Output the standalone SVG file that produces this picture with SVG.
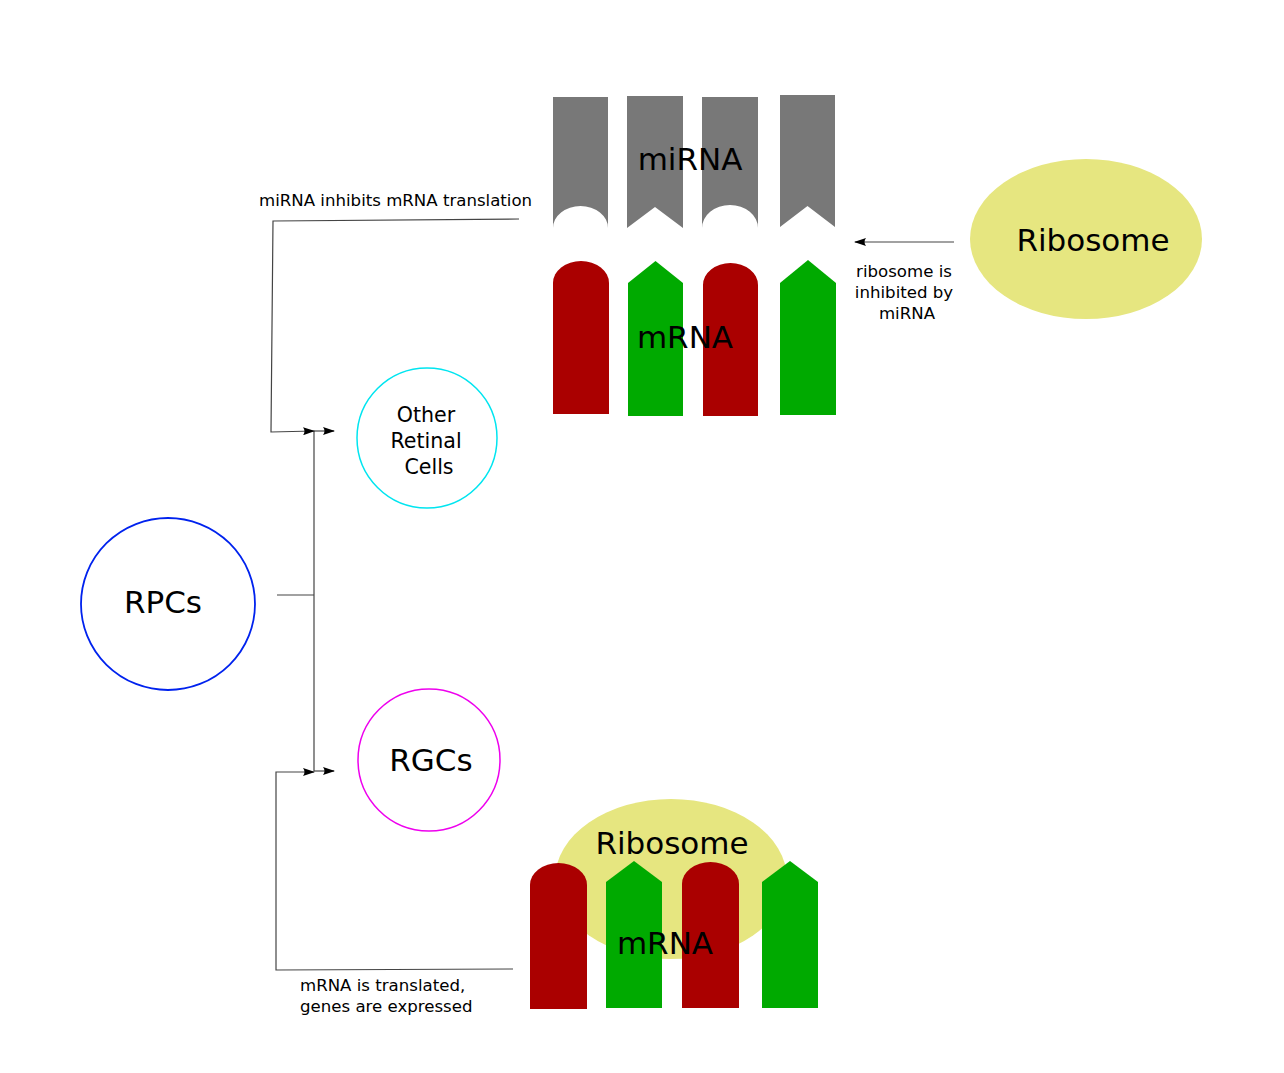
<svg xmlns="http://www.w3.org/2000/svg" width="1284" height="1073" viewBox="0 0 1284 1073">
<style>
text{font-family:"DejaVu Sans","Verdana",sans-serif;fill:#000}
.big{font-size:31px}
.mid{font-size:20.6px}
.sm{font-size:16.6px}
.gray{fill:#787878}
.red{fill:#aa0000}
.green{fill:#00aa00}
.rib{fill:#e6e680}
.ln{fill:none;stroke:#444;stroke-width:1.2}
</style>
<defs>
<marker id="ah" markerWidth="12" markerHeight="8" viewBox="0 0 12 8" refX="11" refY="4" orient="auto" markerUnits="userSpaceOnUse">
<path d="M0,0 L12,4 L0,8 Q3,4 0,0 Z" fill="#000"/>
</marker>
</defs>
<rect width="1284" height="1073" fill="#fff"/>

<g id="mirna">
<path class="gray" d="M553,97 H608 V228 A27.5,22 0 0 0 553,228 Z"/>
<path class="gray" d="M627,96 H683 V228 L655,207 L627,228 Z"/>
<path class="gray" d="M702,97 H758 V228 A28,23 0 0 0 702,228 Z"/>
<path class="gray" d="M780,95 H835 V227 L807.5,206 L780,227 Z"/>
<text class="big" x="690" y="170" text-anchor="middle">miRNA</text>
</g>

<g id="mrna-top">
<path class="red" d="M553,414 V283 A28,22 0 0 1 609,283 V414 Z"/>
<path class="green" d="M628,416 V283 L655.5,261 L683,283 V416 Z"/>
<path class="red" d="M703,416 V285 A27.5,22 0 0 1 758,285 V416 Z"/>
<path class="green" d="M780,415 V283 L808,260 L836,283 V415 Z"/>
<text class="big" x="685" y="348" text-anchor="middle">mRNA</text>
</g>

<g id="ribosome-top">
<ellipse class="rib" cx="1086" cy="239" rx="116" ry="80"/>
<text class="big" x="1093" y="251" text-anchor="middle">Ribosome</text>
</g>

<g id="other-retinal">
<circle cx="427" cy="438" r="70" fill="none" stroke="#00e5f0" stroke-width="1.5"/>
<text class="mid" x="426" y="422" text-anchor="middle">Other</text>
<text class="mid" x="426" y="448" text-anchor="middle">Retinal</text>
<text class="mid" x="429" y="474" text-anchor="middle">Cells</text>
</g>

<g id="rpcs">
<ellipse cx="168" cy="604" rx="87" ry="86" fill="none" stroke="#0022ee" stroke-width="1.8"/>
<text class="big" x="163" y="613" text-anchor="middle">RPCs</text>
</g>

<g id="rgcs">
<circle cx="429" cy="760" r="71" fill="none" stroke="#ee00ee" stroke-width="1.5"/>
<text class="big" x="431" y="771" text-anchor="middle">RGCs</text>
</g>

<g id="bottom-translation">
<ellipse class="rib" cx="671" cy="879" rx="116" ry="80"/>
<text class="big" x="672" y="854" text-anchor="middle">Ribosome</text>
<path class="red" d="M530,1009 V885 A28.5,22 0 0 1 587,885 V1009 Z"/>
<path class="green" d="M606,1008 V882 L634,861 L662,882 V1008 Z"/>
<path class="red" d="M682,1008 V884 A28.5,22 0 0 1 739,884 V1008 Z"/>
<path class="green" d="M762,1008 V882 L790,861 L818,882 V1008 Z"/>
<text class="big" x="665" y="954" text-anchor="middle">mRNA</text>
</g>

<g id="connectors">
<path class="ln" d="M277,595 H314"/>
<path class="ln" d="M314,431 V771"/>
<path class="ln" d="M314,431 H334" marker-end="url(#ah)"/>
<path class="ln" d="M314,771 H334" marker-end="url(#ah)"/>
<path class="ln" d="M519,219 L273,221 L271,432 L314,431" marker-end="url(#ah)"/>
<path class="ln" d="M513,969 L276,970 V772 H314" marker-end="url(#ah)"/>
<path class="ln" d="M954,242 H855" marker-end="url(#ah)"/>
</g>

<g id="labels">
<text class="sm" x="259" y="206">miRNA inhibits mRNA translation</text>
<text class="sm" x="904" y="277" text-anchor="middle">ribosome is</text>
<text class="sm" x="904" y="298" text-anchor="middle">inhibited by</text>
<text class="sm" x="907" y="319" text-anchor="middle">miRNA</text>
<text class="sm" x="300" y="991">mRNA is translated,</text>
<text class="sm" x="300" y="1012">genes are expressed</text>
</g>
</svg>
